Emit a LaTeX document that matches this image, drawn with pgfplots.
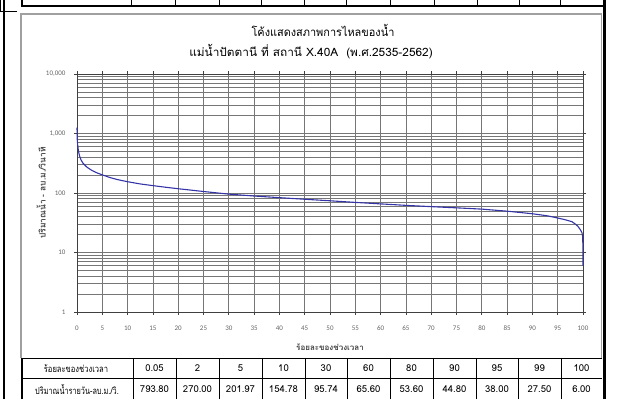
\documentclass[border=0pt]{standalone}
\usepackage{pgfplots}
\pgfplotsset{compat=1.18}
\usepackage{fontspec}
\setmainfont{Carlito}
\newfontfamily\thai[Script=Thai]{Loma}
\definecolor{flow}{RGB}{52,52,168}
\definecolor{gridc}{RGB}{118,118,118}
\definecolor{tickc}{RGB}{100,100,100}
\definecolor{boxc}{RGB}{160,160,160}
\begin{document}
\begin{tikzpicture}[x=1pt,y=1pt]
\path[use as bounding box] (0,0) rectangle (621,399);

% outer page rules
\draw[black, line width=2.4pt] (4,0) -- (4,399);
\draw[black, line width=1pt] (0.5,399) -- (0.5,387);
\draw[black, line width=1pt] (0,387) -- (17,387);
\draw[black, line width=2.6pt] (604.5,0) -- (604.5,399);

% upper table (cut off at the top)
\draw[black, line width=1.2pt] (22,399) -- (22,393) -- (604,393);
\foreach \cx in {131,175,219,261,304,346,390,434,477,519,560}
  \draw[black, line width=1pt] (\cx,399) -- (\cx,393);

% chart frame
\draw[boxc, line width=1.1pt] (21,41) -- (21,385) -- (601.5,385) -- (601.5,41);

% titles
\node[font=\thai\fontsize{11.5}{13}\selectfont, xscale=0.95, anchor=center] at (323,369) {โค้งแสดงสภาพการไหลของน้ำ};
\node[font=\thai\fontsize{11.5}{13}\selectfont, xscale=1.03, anchor=center] at (311,347) {แม่น้ำปัตตานี ที่ สถานี X.40A~~(พ.ศ.2535-2562)};

\begin{axis}[
  at={(77pt,87pt)}, anchor=south west,
  scale only axis, width=506pt, height=238pt,
  xmin=0, xmax=100,
  ymode=log, log basis y=10, ymin=1, ymax=10000,
  xtick={0,5,10,15,20,25,30,35,40,45,50,55,60,65,70,75,80,85,90,95,100},
  ytick={1,10,100,1000,10000},
  yticklabels={1,10,100,{1,000},{10,000}},
  minor ytick={2,3,4,5,6,7,8,9,20,30,40,50,60,70,80,90,200,300,400,500,600,700,800,900,2000,3000,4000,5000,6000,7000,8000,9000},
  xmajorgrids=true, ymajorgrids=true, yminorgrids=true,
  major grid style={gridc, line width=0.75pt},
  minor grid style={gridc, line width=0.65pt},
  axis line style={black!75, line width=1pt},
  tick style={black!75, line width=0.7pt},
  tick align=outside,
  major tick length=3pt,
  minor tick length=0pt,
  /pgf/number format/assume math mode=true,
  ticklabel style={font=\fontsize{7}{8}\selectfont, text=tickc},
  yticklabel style={xshift=-5pt},
  xticklabel style={yshift=-7pt},
  xlabel={\thai\bfseries ร้อยละของช่วงเวลา},
  ylabel={\thai\bfseries ปริมาณน้ำ - ลบ.ม./วินาที},
  xlabel style={font=\fontsize{8}{9}\selectfont, text=black!75,
    at={(axis description cs:0.5,-0.147)}, anchor=center},
  ylabel style={font=\fontsize{8.5}{9}\selectfont, text=black!75,
    at={(axis description cs:-0.071,0.5)}, anchor=center},
  clip=false,
]
\addplot[flow, line width=1.1pt] coordinates {
  (0,1250) (0.05,793.8) (0.15,620) (0.3,500) (0.5,420) (0.8,360)
  (1.2,315) (2,270) (3,238) (4,217) (5,201.97) (6.5,182) (8,168)
  (10,154.78) (12.5,142) (15,133) (17.5,125) (20,118) (25,106)
  (30,95.74) (35,89) (40,83.5) (45,78.5) (50,74) (55,69.5)
  (60,65.6) (65,62) (70,59) (75,56.3) (80,53.6) (85,49.5)
  (90,44.8) (93,41.3) (95,38) (96.5,35.5) (97.8,33) (98.5,30)
  (99,27.5) (99.5,24) (99.8,21.5) (99.95,18) (100,6.0)
};
\end{axis}

% lower table
\draw[black, line width=1.1pt] (22,0) -- (22,40.5) -- (602,40.5);
\draw[black, line width=1.1pt] (22,20.5) -- (602,20.5);
\foreach \cx in {133,176,219,262,305,347,390,433,476,518,561}
  \draw[black, line width=1pt] (\cx,0) -- (\cx,40.5);

\node[font=\thai\fontsize{9.5}{11}\selectfont, xscale=0.8] at (76,30.5) {ร้อยละของช่วงเวลา};
\node[font=\thai\fontsize{9.5}{11}\selectfont, xscale=0.77] at (77,10) {ปริมาณน้ำรายวัน-ลบ.ม./วิ.};
\foreach \cx/\p/\q in {154.5/0.05/793.80, 197.5/2/270.00, 240.5/5/201.97,
    283.5/10/154.78, 326/30/95.74, 368.5/60/65.60, 411.5/80/53.60,
    454.5/90/44.80, 497/95/38.00, 539.5/99/27.50, 581.5/100/6.00}{
  \node[font=\thai\fontsize{9.5}{11}\selectfont] at (\cx,30.5) {\p};
  \node[font=\thai\fontsize{9.5}{11}\selectfont] at (\cx,10) {\q};
}
\end{tikzpicture}
\end{document}
